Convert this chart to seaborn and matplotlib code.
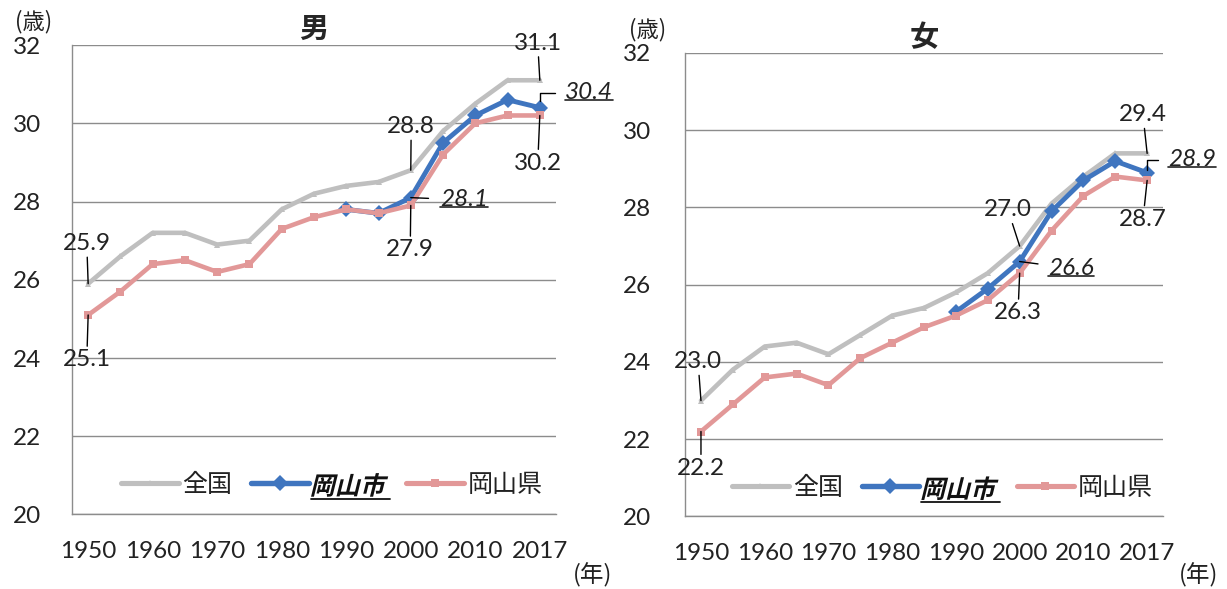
import matplotlib
matplotlib.use("Agg")
import matplotlib.pyplot as plt
import matplotlib.text as mtext
import numpy as np
import pandas as pd
import seaborn as sns
from matplotlib.font_manager import FontProperties
from matplotlib.lines import Line2D
from matplotlib.patches import PathPatch
from matplotlib.textpath import TextPath
from matplotlib.transforms import Affine2D, IdentityTransform

# ---- data ----
years = ["1950", "1955", "1960", "1965", "1970", "1975", "1980", "1985",
         "1990", "1995", "2000", "2005", "2010", "2015", "2017"]
series = ["全国", "岡山市", "岡山県"]
na = np.nan

male_japan = [25.9, 26.6, 27.2, 27.2, 26.9, 27.0, 27.8, 28.2, 28.4, 28.5,
              28.8, 29.8, 30.5, 31.1, 31.1]
male_city = [na, na, na, na, na, na, na, na, 27.8, 27.7, 28.1, 29.5, 30.2,
             30.6, 30.4]
male_pref = [25.1, 25.7, 26.4, 26.5, 26.2, 26.4, 27.3, 27.6, 27.8, 27.7,
             27.9, 29.2, 30.0, 30.2, 30.2]

female_japan = [23.0, 23.8, 24.4, 24.5, 24.2, 24.7, 25.2, 25.4, 25.8, 26.3,
                27.0, 28.1, 28.8, 29.4, 29.4]
female_city = [na, na, na, na, na, na, na, na, 25.3, 25.9, 26.6, 27.9, 28.7,
               29.2, 28.9]
female_pref = [22.2, 22.9, 23.6, 23.7, 23.4, 24.1, 24.5, 24.9, 25.2, 25.6,
               26.3, 27.4, 28.3, 28.8, 28.7]

# ---- style ----
sns.set_style("white")
NUM_FONT = ["Lato", "Noto Sans CJK JP", "DejaVu Sans"]
JP_FONT = ["Noto Sans CJK JP", "DejaVu Sans"]
plt.rcParams["font.family"] = NUM_FONT
NUM_SIZE = 17.5

colors = {"全国": "#bfbfbf", "岡山市": "#3f75bf", "岡山県": "#e29898"}
markers = {"全国": "^", "岡山市": "D", "岡山県": "s"}
msizes = {"全国": 5, "岡山市": 8, "岡山県": 5.5}
lwidths = {"全国": 3.3, "岡山市": 3.5, "岡山県": 3.3}
GRID = "#8c8c8c"
INK = "#222222"

fig = plt.figure(figsize=(12.27, 5.89), dpi=100)
ax_m = fig.add_axes([0.0587, 0.1265, 0.3944, 0.797])
ax_f = fig.add_axes([0.5583, 0.1231, 0.3896, 0.787])

underlined = []   # value labels to underline after layout
slanted = []      # legend texts to redraw as slanted bold


def draw_panel(ax, vals, title, notes, legend_xy, ypad):
    df = pd.DataFrame({"pos": np.tile(np.arange(len(years)), 3),
                       "age": np.concatenate(vals),
                       "series": np.repeat(series, len(years))})
    for name in series:
        sub = df[df["series"] == name].dropna()
        sns.lineplot(data=sub, x="pos", y="age", ax=ax, color=colors[name],
                     lw=lwidths[name], marker=markers[name],
                     markersize=msizes[name], markeredgewidth=0,
                     legend=False)
    ax.set_xlim(-0.5, len(years) - 0.5)
    ax.set_ylim(20, 32)
    ax.set_yticks(range(20, 33, 2))
    ax.set_xticks(range(0, len(years), 2))
    ax.set_xticklabels(years[::2][:-1] + [years[-1]])
    ax.set_xticks(np.arange(-0.5, len(years), 1), minor=True)
    ax.set_xlabel("")
    ax.set_ylabel("")
    ax.yaxis.grid(True, color=GRID, lw=1.0)
    ax.set_axisbelow(True)
    for s in ["top", "right"]:
        ax.spines[s].set_visible(False)
    for s in ["left", "bottom"]:
        ax.spines[s].set_color(GRID)
        ax.spines[s].set_linewidth(1.0)
    ax.tick_params(axis="y", which="major", length=6.5, width=1.0,
                   color=GRID, pad=ypad, labelsize=NUM_SIZE, labelcolor=INK)
    ax.tick_params(axis="x", which="major", length=0, pad=19,
                   labelsize=NUM_SIZE, labelcolor=INK)
    ax.tick_params(axis="x", which="minor", length=5, width=1.0, color=GRID,
                   direction="out")
    ax.set_title(title, family=JP_FONT, fontsize=21, fontweight="bold",
                 pad=5)

    # value labels with leader lines
    for sidx, idx, dx, dy, italic, conn, sa, sb in notes:
        v = vals[sidx][idx]
        style = "italic" if italic else "normal"
        t = ax.annotate(f"{v:.1f}", xy=(idx, v), xytext=(dx, dy),
                        textcoords="offset points", ha="center",
                        va="center", fontsize=NUM_SIZE, style=style,
                        color=INK,
                        arrowprops=dict(arrowstyle="-", color="black",
                                        lw=1.0, shrinkA=sa, shrinkB=sb,
                                        connectionstyle=conn))
        if italic:
            underlined.append(t)

    handles = [Line2D([], [], color=colors[n], lw=lwidths[n] + 0.4,
                      marker=markers[n], markersize=msizes[n],
                      markeredgewidth=0) for n in series]
    leg = ax.legend(handles, series, loc="center", bbox_to_anchor=legend_xy,
                    ncol=3, frameon=False, handlelength=2.3,
                    handletextpad=0.15, columnspacing=0.75,
                    prop=FontProperties(family=JP_FONT, size=18))
    for lt in leg.get_texts():
        lt.set_color(INK)
    city_txt = leg.get_texts()[1]
    city_txt.set_color("none")
    city_txt.set_fontweight("bold")
    slanted.append(city_txt)


STRAIGHT = "arc3,rad=0"
ANGLE = "angle,angleA=0,angleB=90,rad=0"
# (series index, category index, dx, dy, italic, connection, shrinkA, shrinkB)
male_notes = [
    (0, 0, -1, 29, False, STRAIGHT, 0, 0),
    (2, 0, -1, -32.4, False, STRAIGHT, 0, 0),
    (0, 10, 0.3, 31.5, False, STRAIGHT, 0, 0),
    (2, 10, -0.4, -32, False, STRAIGHT, 0, 0),
    (1, 10, 38.4, -1.6, True, STRAIGHT, 6, 0),
    (0, 14, -1.5, 26.8, False, STRAIGHT, 0, 0),
    (1, 14, 35.6, 10.7, True, ANGLE, 5, 5),
    (2, 14, -1.5, -34.3, False, STRAIGHT, 0, 0),
]
female_notes = [
    (0, 0, -2.1, 28.1, False, STRAIGHT, 0, 0),
    (2, 0, 0, -26.4, False, STRAIGHT, 0, 0),
    (0, 10, -8.4, 26.1, False, STRAIGHT, 0, 0),
    (1, 10, 37, -4.8, True, STRAIGHT, 5, 0),
    (2, 10, -1.2, -28.6, False, STRAIGHT, 0, 0),
    (0, 14, -3, 27.9, False, STRAIGHT, 0, 0),
    (1, 14, 32.3, 9.5, True, ANGLE, 5, 2),
    (2, 14, -3, -28.1, False, STRAIGHT, 0, 0),
]

draw_panel(ax_m, [male_japan, male_city, male_pref], "男", male_notes,
           (0.537, 0.063), 16.0)
draw_panel(ax_f, [female_japan, female_city, female_pref], "女", female_notes,
           (0.538, 0.061), 18.0)

# unit labels
fig.text(34 / 1227, 1 - 22 / 589, "(歳)", family=JP_FONT, fontsize=16,
         ha="center", va="center", color=INK)
fig.text(648 / 1227, 1 - 30 / 589, "(歳)", family=JP_FONT, fontsize=16,
         ha="center", va="center", color=INK)
fig.text(593 / 1227, 1 - 575 / 589, "(年)", family=JP_FONT, fontsize=17,
         ha="center", va="center", color=INK)
fig.text(1199 / 1227, 1 - 575 / 589, "(年)", family=JP_FONT, fontsize=17,
         ha="center", va="center", color=INK)

# ---- post layout: slanted legend label and underlines ----
fig.canvas.draw()
renderer = fig.canvas.get_renderer()

for t in slanted:
    bb = t.get_window_extent(renderer)
    fp = FontProperties(family="Noto Sans CJK JP", weight="bold",
                        size=t.get_fontsize())
    path = TextPath((0, 0), t.get_text(), size=t.get_fontsize() * fig.dpi / 72,
                    prop=fp)
    ext = path.get_extents()
    tr = (Affine2D().translate(-(ext.x0 + ext.x1) / 2, -(ext.y0 + ext.y1) / 2)
          .skew_deg(14, 0)
          .translate((bb.x0 + bb.x1) / 2, (bb.y0 + bb.y1) / 2))
    fig.add_artist(PathPatch(path, transform=tr, facecolor="#111111", lw=0))
    y_ul = (bb.y0 + bb.y1) / 2 - (ext.y1 - ext.y0) / 2 - 2
    fig.add_artist(Line2D([bb.x0 - 2, bb.x1 + 2], [y_ul, y_ul], lw=1.3,
                          color="#111111", transform=IdentityTransform()))

for t in underlined:
    bb = mtext.Text.get_window_extent(t, renderer)
    y_ul = bb.y0 + 3
    fig.add_artist(Line2D([bb.x0, bb.x1], [y_ul, y_ul], lw=1.2,
                          color=INK, transform=IdentityTransform()))

fig.savefig("out.png", dpi=100)
